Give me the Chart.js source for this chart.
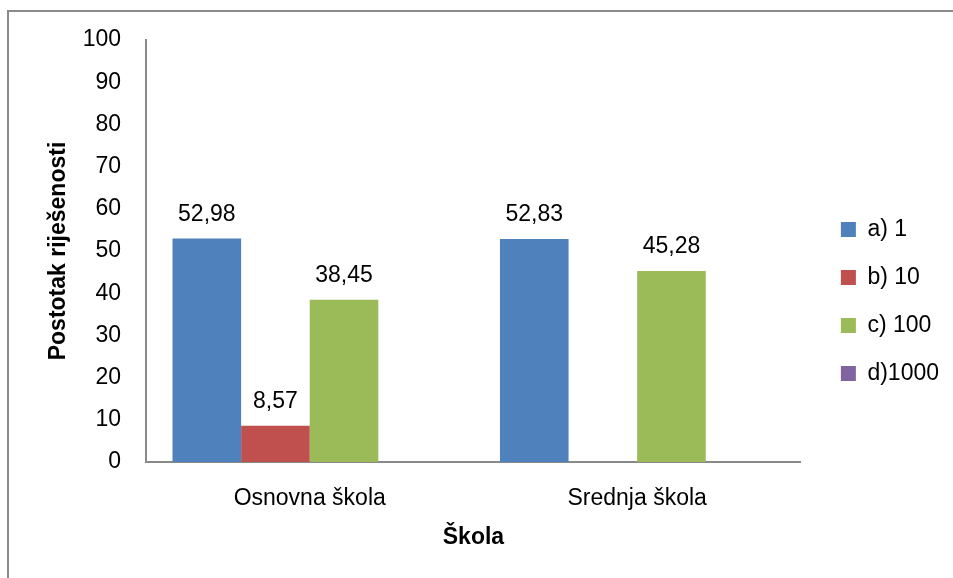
<!DOCTYPE html>
<html>
<head>
<meta charset="utf-8">
<script src="https://cdn.jsdelivr.net/npm/chart.js@4"></script>
<style>
  html, body { margin: 0; padding: 0; background: #ffffff; }
  #wrap { position: relative; width: 953px; height: 578px; overflow: hidden; }
  #frame { position: absolute; left: 7px; top: 10px; width: 1000px; height: 1000px;
           border-left: 2px solid #8a8a8a; border-top: 2px solid #8a8a8a; box-sizing: border-box; }
  #box { position: absolute; left: 0; top: 0; width: 953px; height: 578px; }
</style>
</head>
<body>
<div id="wrap">
  <div id="frame"></div>
  <div id="box"><canvas id="c"></canvas></div>
</div>
<script>
const categories = ["Osnovna škola", "Srednja škola"];
const seriesNames = ["a) 1", "b) 10", "c) 100", "d)1000"];
const seriesA = [52.98, 52.83];
const seriesB = [8.57, null];
const seriesC = [38.45, 45.28];
const seriesD = [null, null];
const seriesColors = ["#4F81BD", "#C0504D", "#9BBB59", "#8064A2"];
const yTicks = [0, 10, 20, 30, 40, 50, 60, 70, 80, 90, 100];

const FONT = "'Liberation Sans', Arial, sans-serif";
const FS = 23;

const valueLabels = {
  id: 'valueLabels',
  afterDatasetsDraw(chart) {
    const ctx = chart.ctx;
    ctx.save();
    ctx.font = FS + "px " + FONT;
    ctx.fillStyle = "#000";
    ctx.textAlign = "center";
    ctx.textBaseline = "middle";
    chart.data.datasets.forEach((ds, i) => {
      const meta = chart.getDatasetMeta(i);
      meta.data.forEach((bar, j) => {
        const v = ds.data[j];
        if (v === null || v === undefined) return;
        ctx.fillText(v.toFixed(2).replace('.', ','), bar.x, bar.y - 24);
      });
    });
    ctx.restore();
  }
};

const legendShift = {
  id: 'legendShift',
  afterLayout(chart) {
    const lg = chart.legend;
    if (!lg) return;
    const dx = 15, dy = 3;
    lg.left += dx; lg.right += dx;
    lg.top += dy; lg.bottom += dy;
    if (lg.legendHitBoxes) lg.legendHitBoxes.forEach(h => { h.left += dx; h.top += dy; });
  }
};

new Chart(document.getElementById('c'), {
  type: 'bar',
  data: {
    labels: categories,
    datasets: [seriesA, seriesB, seriesC, seriesD].map((d, i) => ({
      label: seriesNames[i],
      data: d,
      backgroundColor: seriesColors[i],
      borderWidth: 0,
      categoryPercentage: 0.838,
      barPercentage: 1.0
    }))
  },
  options: {
    responsive: true,
    maintainAspectRatio: false,
    animation: false,
    layout: { padding: { top: 40, bottom: 21, left: 20, right: 19 } },
    plugins: {
      legend: {
        position: 'right',
        align: 'center',
        labels: {
          boxWidth: 15,
          boxHeight: 15,
          padding: 25,
          color: '#000',
          font: { family: FONT, size: FS }
        }
      },
      tooltip: { enabled: false },
      title: { display: false }
    },
    scales: {
      x: {
        grid: { display: false, drawTicks: false },
        border: { display: true, color: '#898989', width: 2 },
        ticks: { color: '#000', font: { family: FONT, size: FS }, padding: 23 },
        title: {
          display: true, text: 'Škola', color: '#000',
          font: { family: FONT, size: FS, weight: 'bold' },
          padding: { top: 10, bottom: 6 }
        },
        afterFit(s) { s.height = 95; }
      },
      y: {
        min: 0, max: 100,
        grid: { display: false, drawTicks: false },
        border: { display: true, color: '#898989', width: 2 },
        afterBuildTicks(s) { s.ticks = yTicks.map(v => ({ value: v })); },
        ticks: { color: '#000', font: { family: FONT, size: FS }, padding: 25 },
        title: {
          display: true, text: 'Postotak riješenosti', color: '#000',
          font: { family: FONT, size: FS, weight: 'bold' },
          padding: { top: 25, bottom: 0 }
        },
        afterFit(s) { s.width = 126; }
      }
    }
  },
  plugins: [valueLabels, legendShift]
});
</script>
</body>
</html>
